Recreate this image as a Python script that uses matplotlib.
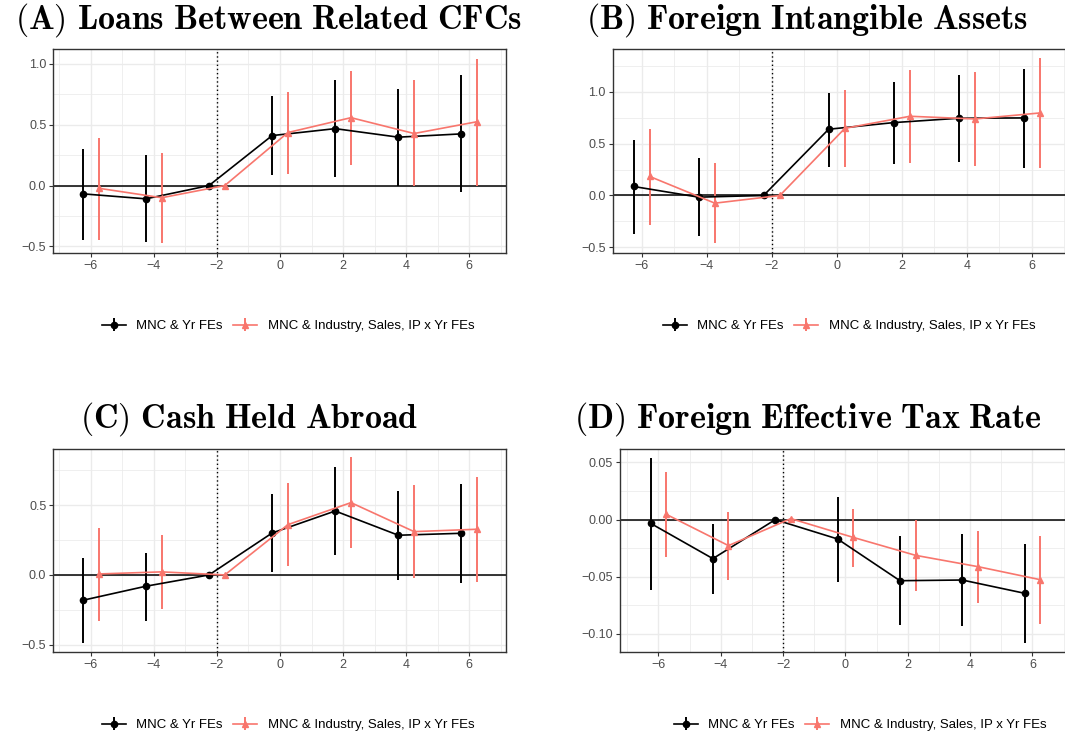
"""
Event-study coefficients for four outcomes, two fixed-effect specifications.
"""

import matplotlib.pyplot as plt
from matplotlib.ticker import MultipleLocator
import numpy as np

plt.rcParams['font.family'] = ['Liberation Sans', 'DejaVu Sans']
plt.rcParams['mathtext.fontset'] = 'cm'

# event time (years relative to treatment)
event_time = np.array([-6, -4, -2, 0, 2, 4, 6])

spec_labels = ['MNC & Yr FEs', 'MNC & Industry, Sales, IP x Yr FEs']

# (A) Loans Between Related CFCs
a_est_base = [-0.068, -0.109, 0.0, 0.41, 0.467, 0.397, 0.424]
a_lo_base = [-0.443, -0.465, 0.0, 0.087, 0.073, 0.0, -0.057]
a_hi_base = [0.304, 0.25, 0.0, 0.734, 0.864, 0.793, 0.908]
a_est_full = [-0.022, -0.1, 0.0, 0.435, 0.557, 0.427, 0.524]
a_lo_full = [-0.443, -0.473, 0.0, 0.098, 0.171, 0.0, 0.0]
a_hi_full = [0.391, 0.266, 0.0, 0.769, 0.943, 0.864, 1.038]

# (B) Foreign Intangible Assets
b_est_base = [0.087, -0.016, 0.0, 0.638, 0.702, 0.744, 0.747]
b_lo_base = [-0.369, -0.394, 0.0, 0.279, 0.304, 0.32, 0.269]
b_hi_base = [0.538, 0.359, 0.0, 0.99, 1.096, 1.16, 1.218]
b_est_full = [0.183, -0.074, 0.0, 0.647, 0.763, 0.737, 0.795]
b_lo_full = [-0.282, -0.462, 0.0, 0.272, 0.314, 0.282, 0.269]
b_hi_full = [0.638, 0.311, 0.0, 1.016, 1.212, 1.186, 1.32]

# (C) Cash Held Abroad
c_est_base = [-0.182, -0.081, 0.0, 0.301, 0.459, 0.285, 0.299]
c_lo_base = [-0.486, -0.328, 0.0, 0.024, 0.144, -0.033, -0.055]
c_hi_base = [0.12, 0.16, 0.0, 0.579, 0.773, 0.603, 0.653]
c_est_full = [0.007, 0.022, 0.0, 0.361, 0.519, 0.311, 0.328]
c_lo_full = [-0.33, -0.244, 0.0, 0.065, 0.191, -0.024, -0.048]
c_hi_full = [0.34, 0.285, 0.0, 0.658, 0.844, 0.646, 0.703]

# (D) Foreign Effective Tax Rate
d_est_base = [-0.0032, -0.0341, 0.0, -0.0169, -0.0534, -0.0528, -0.0644]
d_lo_base = [-0.0615, -0.0647, 0.0, -0.0542, -0.0918, -0.0927, -0.1076]
d_hi_base = [0.054, -0.0035, 0.0, 0.0198, -0.0146, -0.0128, -0.0213]
d_est_full = [0.0047, -0.0227, 0.0009, -0.0155, -0.0312, -0.0411, -0.0525]
d_lo_full = [-0.0327, -0.0525, 0.0009, -0.0414, -0.0624, -0.0729, -0.0913]
d_hi_full = [0.0414, 0.0067, 0.0009, 0.0096, 0.0, -0.0099, -0.0143]

W, H = 1065, 738
BLACK = 'black'
SALMON = '#F8766D'
GRID = '#EBEBEB'


def px_axes(fig, left, top, right, bottom):
    """Add axes from pixel box (top-left origin)."""
    return fig.add_axes([left / W, 1 - bottom / H, (right - left) / W, (bottom - top) / H])


def draw_panel(ax, base, full, xlim, ylim, ymajor):
    ax.set_facecolor('white')
    ax.set_xlim(*xlim)
    ax.set_ylim(*ylim)
    ax.xaxis.set_major_locator(MultipleLocator(2))
    ax.xaxis.set_minor_locator(MultipleLocator(1))
    ax.yaxis.set_major_locator(MultipleLocator(ymajor))
    ax.yaxis.set_minor_locator(MultipleLocator(ymajor / 2))
    ax.grid(True, which='major', color=GRID, linewidth=1.0, zorder=0)
    ax.grid(True, which='minor', color=GRID, linewidth=0.55, zorder=0)
    ax.set_axisbelow(True)
    ax.tick_params(which='minor', length=0)
    ax.tick_params(which='major', length=3, width=0.8, color='#333333',
                   labelcolor='#4D4D4D', labelsize=9, pad=2)
    for sp in ax.spines.values():
        sp.set_color('#333333')
        sp.set_linewidth(1.0)

    ax.axhline(0, color='black', linewidth=1.1, zorder=2)
    ax.axvline(-2, color='black', linestyle=(0, (1, 2)), linewidth=1.0, zorder=2)

    handles = []
    for (est, lo, hi), shift, col, mk, ms in [(base, -0.25, BLACK, 'o', 4.5),
                                            (full, 0.25, SALMON, '^', 5)]:
        est = np.array(est)
        yerr = np.vstack([est - np.array(lo), np.array(hi) - est])
        h = ax.errorbar(event_time + shift, est, yerr=yerr, color=col, ecolor=col,
                        marker=mk, markersize=ms, linewidth=1.2, elinewidth=1.4,
                        capsize=0, zorder=3)
        handles.append(h)
    return handles


fig = plt.figure(figsize=(W / 100, H / 100), dpi=100)
fig.patch.set_facecolor('white')

panels = [
    dict(box=(53.3, 49.3, 506, 252.7), xlim=(-7.185, 7.163), ylim=(-0.551, 1.118), ymaj=0.5,
         base=(a_est_base, a_lo_base, a_hi_base), full=(a_est_full, a_lo_full, a_hi_full),
         title=r'$\mathbf{(A)\ Loans\ Between\ Related\ CFCs}$', tpos=(269, 20), lpos=(288, 326)),
    dict(box=(612.7, 49.3, 1067, 252.7), xlim=(-6.89, 7.08), ylim=(-0.551, 1.408), ymaj=0.5,
         base=(b_est_base, b_lo_base, b_hi_base), full=(b_est_full, b_lo_full, b_hi_full),
         title=r'$\mathbf{(B)\ Foreign\ Intangible\ Assets}$', tpos=(807, 20), lpos=(849, 326)),
    dict(box=(53.3, 449, 506, 651.7), xlim=(-7.185, 7.163), ylim=(-0.551, 0.904), ymaj=0.5,
         base=(c_est_base, c_lo_base, c_hi_base), full=(c_est_full, c_lo_full, c_hi_full),
         title=r'$\mathbf{(C)\ Cash\ Held\ Abroad}$', tpos=(249, 419), lpos=(288, 725)),
    dict(box=(620, 449, 1067, 651.7), xlim=(-7.23, 7.11), ylim=(-0.1155, 0.0618), ymaj=0.05,
         base=(d_est_base, d_lo_base, d_hi_base), full=(d_est_full, d_lo_full, d_hi_full),
         title=r'$\mathbf{(D)\ Foreign\ Effective\ Tax\ Rate}$', tpos=(808, 419), lpos=(860, 725)),
]

for p in panels:
    ax = px_axes(fig, *p['box'])
    hs = draw_panel(ax, p['base'], p['full'], p['xlim'], p['ylim'], p['ymaj'])
    if p['ymaj'] == 0.05:
        ax.yaxis.set_major_formatter(plt.FuncFormatter(lambda v, _: f'{v:.2f}'.replace('-', '\u2212')))
    fig.text(p['tpos'][0] / W, 1 - p['tpos'][1] / H, p['title'], ha='center', va='center',
             fontsize=24.5)
    fig.legend(hs, spec_labels, loc='center', ncol=2, frameon=False, fontsize=9.5,
               bbox_to_anchor=(p['lpos'][0] / W, 1 - p['lpos'][1] / H),
               handlelength=1.8, handletextpad=0.8, columnspacing=0.8)

fig.savefig('out.png', dpi=100, facecolor='white')
